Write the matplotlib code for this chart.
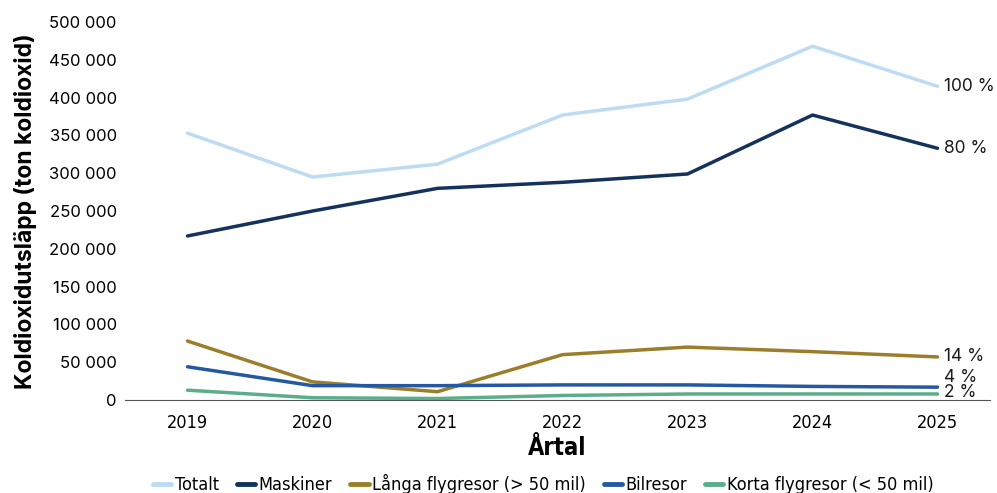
import matplotlib.pyplot as plt
from matplotlib import font_manager
from matplotlib.ticker import FuncFormatter

years = [2019, 2020, 2021, 2022, 2023, 2024, 2025]

totalt = [353000, 295000, 312000, 377000, 398000, 468000, 415000]
maskiner = [217000, 250000, 280000, 288000, 299000, 377000, 333000]
langa_flyg = [78000, 24000, 11000, 60000, 70000, 64000, 57000]
bilresor = [44000, 19000, 19000, 20000, 20000, 18000, 17000]
korta_flyg = [13000, 3000, 2000, 6000, 8000, 8000, 8000]

labels = ['Totalt', 'Maskiner', 'Långa flygresor (> 50 mil)', 'Bilresor', 'Korta flygresor (< 50 mil)']
end_labels = ['100 %', '80 %', '14 %', '4 %', '2 %']

colors = ['#BDDCF4', '#14325E', '#9C7D2B', '#2558A2', '#5BAE8A']
label_dy = [0, 0, 0, 7, 1]  # points, nudge to keep the small ones apart

plt.rcParams['font.family'] = ['Inter', 'DejaVu Sans']

cond = font_manager.FontProperties(family='DejaVu Sans', stretch='condensed', size=13)

fig = plt.figure(figsize=(9.97, 4.93), dpi=100)
ax = fig.add_axes([0.1254, 0.1886, 0.8676, 0.7667])

series = [totalt, maskiner, langa_flyg, bilresor, korta_flyg]
for vals, lab, col, txt, dy in zip(series, labels, colors, end_labels, label_dy):
    ax.plot(years, vals, color=col, lw=2.5, label=lab, solid_capstyle='round')
    ax.annotate(txt, (years[-1], vals[-1]), xytext=(5, dy), textcoords='offset points',
                va='center', ha='left', fontsize=12.5, color='#1a1a1a')

ax.set_xlim(2018.5, 2025.42)
ax.set_ylim(0, 500000)
ax.set_xticks(years)
ax.set_yticks(range(0, 500001, 50000))
ax.yaxis.set_major_formatter(FuncFormatter(lambda v, p: f'{int(v):,}'.replace(',', ' ')))

for s in ['top', 'right', 'left']:
    ax.spines[s].set_visible(False)
ax.spines['bottom'].set_color('#555555')
ax.tick_params(axis='both', length=0)
ax.tick_params(axis='y', labelsize=12, pad=6)
ax.tick_params(axis='x', pad=10)
for t in ax.get_xticklabels():
    t.set_fontproperties(cond)

xl_font = cond.copy()
xl_font.set_size(17)
xl_font.set_weight('bold')
ax.set_xlabel('Årtal', fontproperties=xl_font, labelpad=3)
ax.set_ylabel('Koldioxidutsläpp (ton koldioxid)', fontsize=16.5, fontweight='bold', labelpad=8)

leg = fig.legend(loc='lower center', bbox_to_anchor=(0.545, -0.035), ncol=5, frameon=False,
                 prop=cond, handlelength=1.0, handletextpad=0.2, columnspacing=1.0)
for h in leg.get_lines():
    h.set_linewidth(3.5)

fig.savefig('out.png', dpi=100)
